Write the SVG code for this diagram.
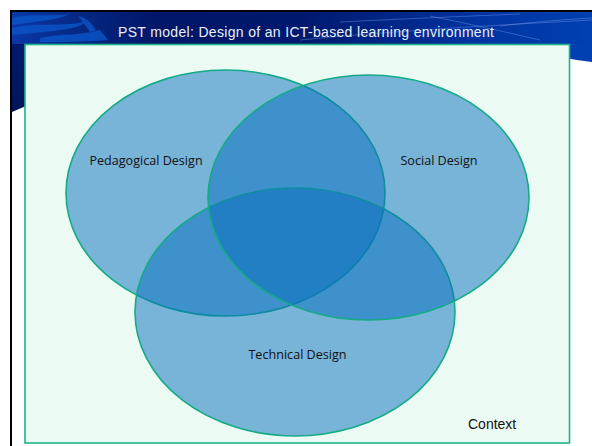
<svg xmlns="http://www.w3.org/2000/svg" width="592" height="446" viewBox="0 0 592 446">
  <defs>
    <linearGradient id="band" x1="0" y1="0" x2="1" y2="0">
      <stop offset="0" stop-color="#0a38a8"/>
      <stop offset="0.1" stop-color="#062a86"/>
      <stop offset="0.25" stop-color="#001668"/>
      <stop offset="0.5" stop-color="#00196e"/>
      <stop offset="0.8" stop-color="#0033a0"/>
      <stop offset="1" stop-color="#0040b2"/>
    </linearGradient>
    <linearGradient id="side" x1="0" y1="0" x2="0" y2="1">
      <stop offset="0" stop-color="#001a6e"/>
      <stop offset="1" stop-color="#001458"/>
    </linearGradient>
    <style>
      .set { fill: rgb(5,110,189); fill-opacity: 0.5; stroke: #14ab86; stroke-width: 1.6; }
      .lbl { font-family: "Open Sans", "Liberation Sans", sans-serif; font-size: 12.6px; fill: #111; text-anchor: middle; }
      .swoosh { fill: #0a52c4; opacity: 0.85; }
      .streak { fill: none; stroke: #8fb0ff; stroke-width: 0.7; opacity: 0.5; }
    </style>
  </defs>

  <!-- page -->
  <rect x="0" y="0" width="592" height="446" fill="#ffffff"/>

  <!-- header band -->
  <g id="header">
    <rect x="12" y="12" width="580" height="33" fill="url(#band)"/>
    <path d="M12 44 H26 V106 L12 112 Z" fill="url(#side)"/>
    <path d="M560 44 H592 V62 Q575 60 560 57 Z" fill="#0040b2"/>
    <path class="swoosh" d="M12 18 C30 13 50 17 70 14 C58 20 40 21 12 25 Z"/>
    <path class="swoosh" d="M12 28 C35 22 60 27 85 22 C80 29 55 31 12 35 Z"/>
    <path class="swoosh" d="M40 38 C60 33 80 36 100 30 L108 40 C85 42 60 42 40 42 Z"/>
    <path class="swoosh" d="M78 16 C88 18 92 24 96 30 L90 32 C86 26 82 21 78 16 Z"/>
    <path class="streak" d="M340 22 Q420 18 520 14"/>
    <path class="streak" d="M300 40 Q400 30 592 20"/>
    <path class="streak" d="M430 16 Q480 26 540 40"/>
    <path class="streak" d="M500 26 Q550 20 592 18"/>
    <text x="118" y="37" font-family="'Liberation Sans', Arial, sans-serif" font-size="14" fill="#eceef6" textLength="376" lengthAdjust="spacing">PST model: Design of an ICT-based learning environment</text>
  </g>

  <!-- slide frame lines -->
  <rect x="10" y="10" width="582" height="2" fill="#000"/>
  <rect x="10" y="10" width="2" height="436" fill="#000"/>

  <!-- context area -->
  <g id="context">
    <rect x="25" y="44.5" width="544.5" height="398.5" fill="#ebfaf3" stroke="#1fb48a" stroke-width="1.6"/>
    <text x="468" y="429" font-family="'Liberation Sans', Arial, sans-serif" font-size="14" fill="#111">Context</text>
  </g>

  <!-- overlapping design areas -->
  <g id="pedagogical">
    <ellipse class="set" cx="225.5" cy="193" rx="159.5" ry="123"/>
  </g>
  <g id="technical">
    <ellipse class="set" cx="295" cy="312" rx="160" ry="124"/>
  </g>
  <g id="social">
    <ellipse class="set" cx="368.5" cy="197.5" rx="160.5" ry="122.5"/>
  </g>

  <g id="labels">
    <text class="lbl" x="146" y="165">Pedagogical Design</text>
    <text class="lbl" x="439" y="165">Social Design</text>
    <text class="lbl" x="297.5" y="359">Technical Design</text>
  </g>
</svg>
